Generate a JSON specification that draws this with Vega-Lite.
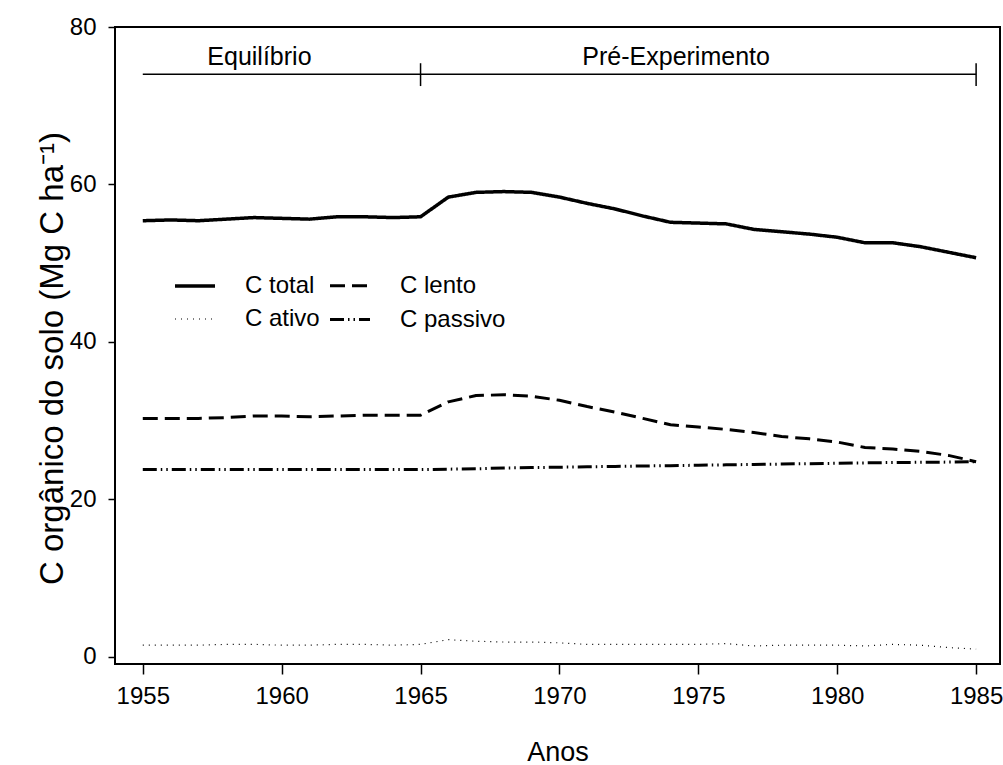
{
  "$schema": "https://vega.github.io/schema/vega-lite/v6.json",
  "width": 885,
  "height": 637,
  "autosize": {"type": "none"},
  "padding": {"left": 115, "top": 27, "right": 3, "bottom": 101},
  "background": "white",
  "config": {
    "font": "Liberation Sans",
    "view": {"stroke": "black", "strokeWidth": 2},
    "axis": {"grid": false, "domain": false, "tickColor": "black", "labelColor": "black", "titleColor": "black", "labelFont": "Liberation Sans", "titleFont": "Liberation Sans", "titleFontWeight": "normal", "tickWidth": 1.5}
  },
  "datasets": {
    "series": [
      {"year": 1955, "series": "C total", "value": 55.4},
      {"year": 1956, "series": "C total", "value": 55.5},
      {"year": 1957, "series": "C total", "value": 55.4},
      {"year": 1958, "series": "C total", "value": 55.6},
      {"year": 1959, "series": "C total", "value": 55.8},
      {"year": 1960, "series": "C total", "value": 55.7},
      {"year": 1961, "series": "C total", "value": 55.6},
      {"year": 1962, "series": "C total", "value": 55.9},
      {"year": 1963, "series": "C total", "value": 55.9},
      {"year": 1964, "series": "C total", "value": 55.8},
      {"year": 1965, "series": "C total", "value": 55.9},
      {"year": 1966, "series": "C total", "value": 58.4},
      {"year": 1967, "series": "C total", "value": 59.0},
      {"year": 1968, "series": "C total", "value": 59.1},
      {"year": 1969, "series": "C total", "value": 59.0},
      {"year": 1970, "series": "C total", "value": 58.4},
      {"year": 1971, "series": "C total", "value": 57.6},
      {"year": 1972, "series": "C total", "value": 56.9},
      {"year": 1973, "series": "C total", "value": 56.0},
      {"year": 1974, "series": "C total", "value": 55.2},
      {"year": 1975, "series": "C total", "value": 55.1},
      {"year": 1976, "series": "C total", "value": 55.0},
      {"year": 1977, "series": "C total", "value": 54.3},
      {"year": 1978, "series": "C total", "value": 54.0},
      {"year": 1979, "series": "C total", "value": 53.7},
      {"year": 1980, "series": "C total", "value": 53.3},
      {"year": 1981, "series": "C total", "value": 52.6},
      {"year": 1982, "series": "C total", "value": 52.6},
      {"year": 1983, "series": "C total", "value": 52.1},
      {"year": 1984, "series": "C total", "value": 51.4},
      {"year": 1985, "series": "C total", "value": 50.7},
      {"year": 1955, "series": "C lento", "value": 30.3},
      {"year": 1956, "series": "C lento", "value": 30.3},
      {"year": 1957, "series": "C lento", "value": 30.3},
      {"year": 1958, "series": "C lento", "value": 30.4},
      {"year": 1959, "series": "C lento", "value": 30.6},
      {"year": 1960, "series": "C lento", "value": 30.6},
      {"year": 1961, "series": "C lento", "value": 30.5},
      {"year": 1962, "series": "C lento", "value": 30.6},
      {"year": 1963, "series": "C lento", "value": 30.7},
      {"year": 1964, "series": "C lento", "value": 30.7},
      {"year": 1965, "series": "C lento", "value": 30.7},
      {"year": 1966, "series": "C lento", "value": 32.4},
      {"year": 1967, "series": "C lento", "value": 33.2},
      {"year": 1968, "series": "C lento", "value": 33.3},
      {"year": 1969, "series": "C lento", "value": 33.1},
      {"year": 1970, "series": "C lento", "value": 32.6},
      {"year": 1971, "series": "C lento", "value": 31.8},
      {"year": 1972, "series": "C lento", "value": 31.1},
      {"year": 1973, "series": "C lento", "value": 30.3},
      {"year": 1974, "series": "C lento", "value": 29.5},
      {"year": 1975, "series": "C lento", "value": 29.2},
      {"year": 1976, "series": "C lento", "value": 28.9},
      {"year": 1977, "series": "C lento", "value": 28.5},
      {"year": 1978, "series": "C lento", "value": 28.0},
      {"year": 1979, "series": "C lento", "value": 27.7},
      {"year": 1980, "series": "C lento", "value": 27.3},
      {"year": 1981, "series": "C lento", "value": 26.6},
      {"year": 1982, "series": "C lento", "value": 26.4},
      {"year": 1983, "series": "C lento", "value": 26.1},
      {"year": 1984, "series": "C lento", "value": 25.6},
      {"year": 1985, "series": "C lento", "value": 24.8},
      {"year": 1955, "series": "C ativo", "value": 1.5},
      {"year": 1956, "series": "C ativo", "value": 1.5},
      {"year": 1957, "series": "C ativo", "value": 1.5},
      {"year": 1958, "series": "C ativo", "value": 1.6},
      {"year": 1959, "series": "C ativo", "value": 1.6},
      {"year": 1960, "series": "C ativo", "value": 1.5},
      {"year": 1961, "series": "C ativo", "value": 1.5},
      {"year": 1962, "series": "C ativo", "value": 1.6},
      {"year": 1963, "series": "C ativo", "value": 1.6},
      {"year": 1964, "series": "C ativo", "value": 1.5},
      {"year": 1965, "series": "C ativo", "value": 1.6},
      {"year": 1966, "series": "C ativo", "value": 2.2},
      {"year": 1967, "series": "C ativo", "value": 2.0},
      {"year": 1968, "series": "C ativo", "value": 1.9},
      {"year": 1969, "series": "C ativo", "value": 1.9},
      {"year": 1970, "series": "C ativo", "value": 1.8},
      {"year": 1971, "series": "C ativo", "value": 1.6},
      {"year": 1972, "series": "C ativo", "value": 1.6},
      {"year": 1973, "series": "C ativo", "value": 1.6},
      {"year": 1974, "series": "C ativo", "value": 1.6},
      {"year": 1975, "series": "C ativo", "value": 1.6},
      {"year": 1976, "series": "C ativo", "value": 1.7},
      {"year": 1977, "series": "C ativo", "value": 1.4},
      {"year": 1978, "series": "C ativo", "value": 1.5},
      {"year": 1979, "series": "C ativo", "value": 1.5},
      {"year": 1980, "series": "C ativo", "value": 1.5},
      {"year": 1981, "series": "C ativo", "value": 1.4},
      {"year": 1982, "series": "C ativo", "value": 1.6},
      {"year": 1983, "series": "C ativo", "value": 1.5},
      {"year": 1984, "series": "C ativo", "value": 1.2},
      {"year": 1985, "series": "C ativo", "value": 1.0},
      {"year": 1955, "series": "C passivo", "value": 23.8},
      {"year": 1956, "series": "C passivo", "value": 23.8},
      {"year": 1957, "series": "C passivo", "value": 23.8},
      {"year": 1958, "series": "C passivo", "value": 23.8},
      {"year": 1959, "series": "C passivo", "value": 23.8},
      {"year": 1960, "series": "C passivo", "value": 23.8},
      {"year": 1961, "series": "C passivo", "value": 23.8},
      {"year": 1962, "series": "C passivo", "value": 23.8},
      {"year": 1963, "series": "C passivo", "value": 23.8},
      {"year": 1964, "series": "C passivo", "value": 23.8},
      {"year": 1965, "series": "C passivo", "value": 23.8},
      {"year": 1966, "series": "C passivo", "value": 23.85},
      {"year": 1967, "series": "C passivo", "value": 23.9},
      {"year": 1968, "series": "C passivo", "value": 24.0},
      {"year": 1969, "series": "C passivo", "value": 24.05},
      {"year": 1970, "series": "C passivo", "value": 24.1},
      {"year": 1971, "series": "C passivo", "value": 24.15},
      {"year": 1972, "series": "C passivo", "value": 24.2},
      {"year": 1973, "series": "C passivo", "value": 24.25},
      {"year": 1974, "series": "C passivo", "value": 24.3},
      {"year": 1975, "series": "C passivo", "value": 24.35},
      {"year": 1976, "series": "C passivo", "value": 24.4},
      {"year": 1977, "series": "C passivo", "value": 24.45},
      {"year": 1978, "series": "C passivo", "value": 24.5},
      {"year": 1979, "series": "C passivo", "value": 24.55},
      {"year": 1980, "series": "C passivo", "value": 24.6},
      {"year": 1981, "series": "C passivo", "value": 24.65},
      {"year": 1982, "series": "C passivo", "value": 24.7},
      {"year": 1983, "series": "C passivo", "value": 24.72},
      {"year": 1984, "series": "C passivo", "value": 24.75},
      {"year": 1985, "series": "C passivo", "value": 24.8}
    ],
    "bars": [
      {"x": 1955, "x2": 1985, "y": 74.0, "y2": 74.0},
      {"x": 1965, "x2": 1965, "y": 72.5, "y2": 75.4},
      {"x": 1985, "x2": 1985, "y": 72.5, "y2": 75.4}
    ],
    "labels": [
      {"x": 1959.2, "y": 74.0, "label": "Equilíbrio"},
      {"x": 1974.2, "y": 74.0, "label": "Pré-Experimento"}
    ]
  },
  "layer": [
    {
      "data": {"name": "series"},
      "mark": {"type": "line", "strokeCap": "butt", "strokeJoin": "round", "color": "black"},
      "encoding": {
        "x": {
          "field": "year", "type": "quantitative",
          "scale": {"domain": [1954.0, 1985.86], "nice": false, "zero": false},
          "axis": {"values": [1955, 1960, 1965, 1970, 1975, 1980, 1985], "format": "d", "title": "Anos", "tickSize": 10, "labelPadding": 10, "labelFontSize": 24, "titleFontSize": 27, "titlePadding": 31}
        },
        "y": {
          "field": "value", "type": "quantitative",
          "scale": {"domain": [-0.89, 80], "nice": false, "zero": false},
          "axis": {"values": [0, 20, 40, 60, 80], "title": "C orgânico do solo (Mg C ha⁻¹)", "tickSize": 7, "labelPadding": 12, "labelFontSize": 24, "titleFontSize": 33, "titlePadding": 0, "titleY": 331}
        },
        "strokeDash": {
          "field": "series", "type": "nominal",
          "scale": {"domain": ["C total", "C ativo", "C lento", "C passivo"], "range": [[1, 0], [1, 5], [15, 7], [14, 4, 1.5, 4, 1.5, 4]]},
          "legend": {"title": null, "orient": "none", "legendX": 58, "legendY": 237, "columns": 2, "symbolType": "stroke", "symbolSize": 1600, "symbolStrokeColor": "black", "labelFontSize": 24, "labelFont": "Liberation Sans", "labelColor": "black", "labelOffset": 28, "columnPadding": 4, "rowPadding": 0}
        },
        "strokeWidth": {
          "field": "series", "type": "nominal",
          "scale": {"type": "ordinal", "domain": ["C total", "C ativo", "C lento", "C passivo"], "range": [3.5, 1.2, 3, 3]},
          "legend": {"title": null, "orient": "none", "legendX": 58, "legendY": 237, "columns": 2, "symbolType": "stroke", "symbolSize": 1600, "labelFontSize": 24, "labelOffset": 28, "columnPadding": 4, "rowPadding": 0}
        }
      }
    },
    {
      "data": {"name": "bars"},
      "mark": {"type": "rule", "color": "black", "strokeWidth": 1.5},
      "encoding": {
        "x": {"field": "x", "type": "quantitative"},
        "x2": {"field": "x2"},
        "y": {"field": "y", "type": "quantitative"},
        "y2": {"field": "y2"}
      }
    },
    {
      "data": {"name": "labels"},
      "mark": {"type": "text", "font": "Liberation Sans", "fontSize": 25, "color": "black", "baseline": "alphabetic", "align": "center", "dy": -9},
      "encoding": {
        "x": {"field": "x", "type": "quantitative"},
        "y": {"field": "y", "type": "quantitative"},
        "text": {"field": "label"}
      }
    }
  ]
}
